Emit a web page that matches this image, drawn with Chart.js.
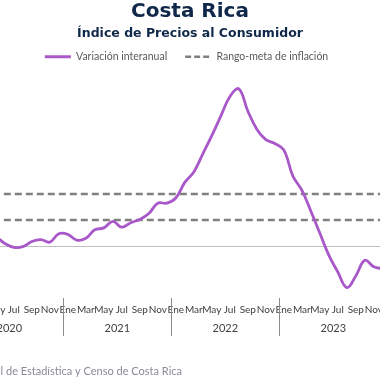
<!DOCTYPE html>
<html>
<head>
<meta charset="utf-8">
<script src="https://cdn.jsdelivr.net/npm/chart.js@4.4.1/dist/chart.umd.min.js"></script>
<style>
    html, body { margin: 0; padding: 0; width: 380px; height: 380px; overflow: hidden; background: #fff; }
    #marco { position: absolute; left: -120px; top: 0; width: 613px; height: 380px; }
</style>
</head>
<body>
<div id="marco"><canvas id="graficoIPC"></canvas></div>
<script>
// Datos (variación interanual del IPC, %)
const meses = ['Ene', 'Feb', 'Mar', 'Abr', 'May', 'Jun', 'Jul', 'Ago', 'Sep', 'Oct', 'Nov', 'Dic'];
const anios = ['2020', '2021', '2022', '2023'];
const ipc2020 = [1.7, 1.5, 1.3, 0.8, 0.7, 0.2, -0.1, -0.05, 0.35, 0.5, 0.3, 0.95];
const ipc2021 = [0.9, 0.45, 0.6, 1.25, 1.4, 1.9, 1.45, 1.8, 2.05, 2.5, 3.3, 3.3];
const ipc2022 = [3.7, 4.9, 5.7, 7.1, 8.5, 10.0, 11.5, 12.1, 10.4, 9.0, 8.2, 7.9];
const ipc2023 = [7.4, 5.4, 4.3, 2.7, 1.0, -0.7, -2.0, -3.2, -2.3, -1.1, -1.6, -1.75];
const metaInferior = 2;
const metaSuperior = 4;

const etiquetas = [];
anios.forEach(function(a) {
    meses.forEach(function(m) { etiquetas.push(m + ' ' + a); });
});
const variacion = [].concat(ipc2020, ipc2021, ipc2022, ipc2023);
const lineaInferior = etiquetas.map(function() { return metaInferior; });
const lineaSuperior = etiquetas.map(function() { return metaSuperior; });

const CENTRO = 310; // centro visible (x=190 en la ventana)

// Títulos, años, separadores y fuente
const decoracion = {
    id: 'decoracion',
    afterDraw(chart) {
        const ctx = chart.ctx;
        const x = chart.scales.x;
        const abajo = chart.chartArea.bottom;
        ctx.save();
        ctx.textAlign = 'center';
        ctx.textBaseline = 'middle';
        ctx.fillStyle = '#10284a';
        ctx.font = 'bold 20px "DejaVu Sans"';
        ctx.fillText('Costa Rica', CENTRO, 12);
        ctx.font = 'bold 12.5px "DejaVu Sans"';
        ctx.fillText('Índice de Precios al Consumidor', CENTRO, 34);

        // años y separadores
        ctx.fillStyle = '#404040';
        ctx.font = '11px Lato';
        ctx.strokeStyle = '#8c8c8c';
        ctx.lineWidth = 1;
        anios.forEach(function(anio, k) {
            const ini = x.getPixelForValue(k * 12);
            const fin = x.getPixelForValue(k * 12 + 11);
            ctx.fillText(anio, (ini + fin) / 2, abajo + 30);
            if (k > 0) {
                const sep = Math.round((x.getPixelForValue(k * 12 - 1) + ini) / 2) + 0.5;
                ctx.beginPath();
                ctx.moveTo(sep, abajo);
                ctx.lineTo(sep, abajo + 38);
                ctx.stroke();
            }
        });

        // fuente
        ctx.textAlign = 'right';
        ctx.fillStyle = '#8a8a98';
        ctx.font = '11px Lato';
        ctx.fillText('Fuente: Instituto Nacional de Estadística y Censo de Costa Rica', 302, 371);
        ctx.restore();
    }
};

new Chart(document.getElementById('graficoIPC'), {
    type: 'line',
    data: {
        labels: etiquetas,
        datasets: [{
            label: 'Variación interanual',
            data: variacion,
            borderColor: '#a858c8',
            backgroundColor: '#a858c8',
            borderWidth: 2.8,
            tension: 0.4,
            pointRadius: 0
        }, {
            label: 'Rango-meta de inflación',
            data: lineaSuperior,
            borderColor: '#808080',
            backgroundColor: '#808080',
            borderWidth: 2.5,
            borderDash: [7, 4],
            pointRadius: 0
        }, {
            label: 'Rango-meta inferior',
            data: lineaInferior,
            borderColor: '#808080',
            backgroundColor: '#808080',
            borderWidth: 2.5,
            borderDash: [7, 4],
            pointRadius: 0
        }]
    },
    options: {
        responsive: true,
        maintainAspectRatio: false,
        animation: false,
        layout: { padding: { left: 75.3, right: 75.3, top: 33.5, bottom: 0 } },
        plugins: {
            title: { display: false },
            tooltip: { enabled: false },
            legend: {
                position: 'top',
                labels: {
                    usePointStyle: true,
                    pointStyle: 'line',
                    pointStyleWidth: 26,
                    boxHeight: 10,
                    padding: 18,
                    color: '#595959',
                    font: { family: 'Lato', size: 10.5 },
                    generateLabels: function(chart) {
                        const items = Chart.defaults.plugins.legend.labels.generateLabels(chart);
                        items.forEach(function(it) {
                            const ds = chart.data.datasets[it.datasetIndex];
                            it.lineDash = ds.borderDash ? [6, 3] : [];
                            it.lineWidth = ds.borderWidth;
                            it.strokeStyle = ds.borderColor;
                        });
                        return items;
                    },
                    filter: function(item) { return item.datasetIndex < 2; }
                }
            }
        },
        scales: {
            x: {
                offset: true,
                grid: { display: false, drawTicks: false },
                border: { display: false },
                ticks: {
                    autoSkip: false,
                    maxRotation: 0,
                    padding: 6,
                    color: '#404040',
                    font: { family: 'Lato', size: 10 },
                    callback: function(valor, i) {
                        return i % 2 === 0 ? meses[i % 12] : '';
                    }
                },
                afterFit: function(escala) { escala.height = 82; }
            },
            y: {
                min: -4,
                max: 13.4,
                grid: {
                    drawTicks: false,
                    color: function(c) { return c.tick && c.tick.value === 0 ? '#bfbfbf' : 'rgba(0,0,0,0)'; }
                },
                border: { display: false },
                ticks: { display: false, stepSize: 2 },
                afterFit: function(escala) { escala.width = 0; }
            },
            y2: {
                position: 'right',
                display: true,
                grid: { display: false, drawTicks: false },
                border: { display: false },
                ticks: { display: false },
                afterFit: function(escala) { escala.width = 30.4; }
            }
        }
    },
    plugins: [decoracion]
});
</script>
</body>
</html>
